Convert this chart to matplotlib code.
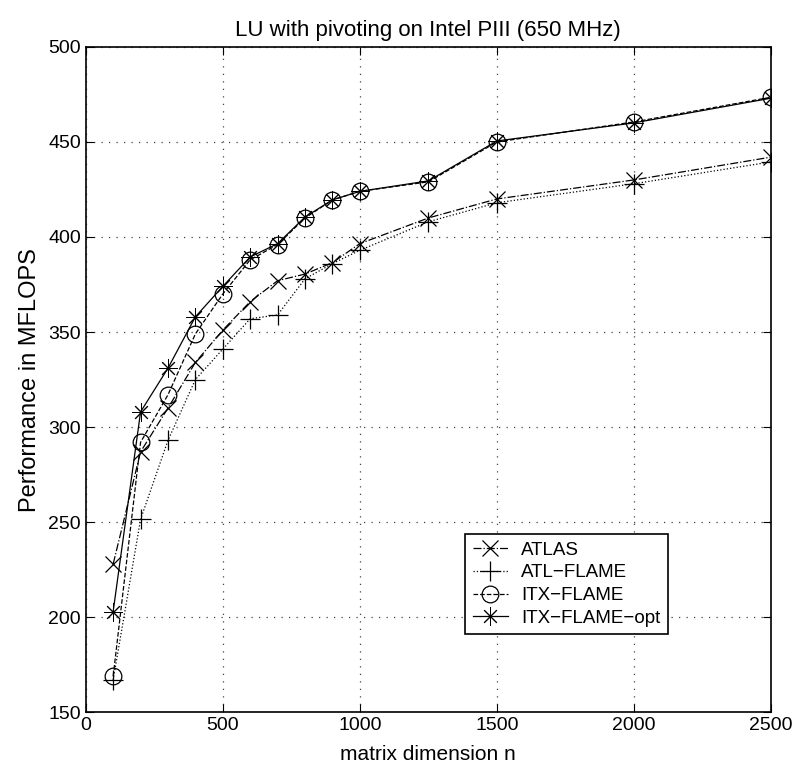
import matplotlib
matplotlib.use("Agg")
import matplotlib.pyplot as plt

plt.rcParams['font.family'] = ['Liberation Sans', 'DejaVu Sans']

n = [100, 200, 300, 400, 500, 600, 700, 800, 900, 1000, 1250, 1500, 2000, 2500]
atlas = [228, 287, 310, 334, 351, 366, 377, 380.5, 386.5, 396.5, 410, 420, 430, 442]
atl_flame = [167, 251.5, 293, 325, 341, 357, 359, 378, 386, 393, 408, 418, 428, 439.5]
itx_flame = [169, 292, 317, 349, 370, 388, 396, 410, 419.5, 424, 429, 450, 460.5, 473.5]
itx_opt = [203, 308, 331, 358, 374, 389.5, 396.5, 410.5, 419.5, 424, 429.5, 450.5, 460, 473]

asterisk = (8, 2, 0)

fig = plt.figure(figsize=(7.94, 7.81), dpi=100)
ax = fig.add_axes([0.108, 0.088, 0.863, 0.852])

ax.plot(n, atlas, '-.', color='k', lw=0.9, marker='x', ms=11, mew=0.9, label='ATLAS')
ax.plot(n, atl_flame, ':', color='k', lw=0.9, marker='+', ms=14, mew=0.9, label='ATL\u2212FLAME')
ax.plot(n, itx_flame, '--', color='k', lw=0.9, marker='o', ms=12, mew=0.9,
        fillstyle='none', label='ITX\u2212FLAME')
ax.plot(n, itx_opt, '-', color='k', lw=0.9, marker=asterisk, ms=13, mew=0.7,
        label='ITX\u2212FLAME\u2212opt')

ax.set_xlim(0, 2500)
ax.set_ylim(150, 500)
ax.set_xticks(range(0, 2501, 500))
ax.set_yticks(range(150, 501, 50))
ax.grid(True, linestyle=(0, (1, 5)), color='#444444', lw=0.9)
ax.tick_params(direction='in', top=True, right=True, labelsize=14, length=6)
for s in ax.spines.values():
    s.set_linewidth(1.2)

ax.set_title('LU with pivoting on Intel PIII (650 MHz)', fontsize=16, pad=8)
ax.set_xlabel('matrix dimension n', fontsize=15, labelpad=8)
ax.set_ylabel('Performance in MFLOPS', fontsize=17, labelpad=5)

leg = ax.legend(loc='upper left', bbox_to_anchor=(0.54, 0.282), fontsize=13.5,
                fancybox=False, edgecolor='k', framealpha=1, handlelength=1.9,
                borderpad=0.4, labelspacing=0.3, handletextpad=0.7)
leg.get_frame().set_linewidth(1.2)

fig.savefig('out.png', dpi=100)
